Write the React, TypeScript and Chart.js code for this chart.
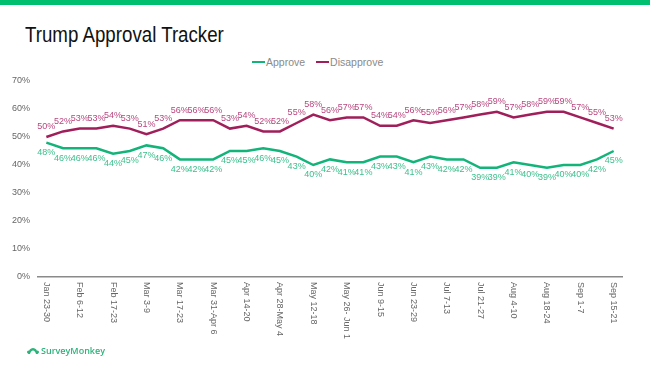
import React, { useEffect, useRef } from "react";
import { Chart, registerables } from "chart.js";

Chart.register(...registerables);

const tickLabels = [
  "Jan 23-30", "Feb 6-12", "Feb 17-23", "Mar 3-9", "Mar 17-23", "Mar 31-Apr 6",
  "Apr 14-20", "Apr 28-May 4", "May 12-18", "May 26- Jun 1", "Jun 9-15", "Jun 23-29",
  "Jul 7-13", "Jul 21-27", "Aug 4-10", "Aug 18-24", "Sep 1-7", "Sep 15-21",
];

const approve = [
  48, 46, 46, 46, 44, 45, 47, 46, 42, 42, 42, 45, 45, 46, 45, 43, 40, 42,
  41, 41, 43, 43, 41, 43, 42, 42, 39, 39, 41, 40, 39, 40, 40, 42, 45,
];

const disapprove = [
  50, 52, 53, 53, 54, 53, 51, 53, 56, 56, 56, 53, 54, 52, 52, 55, 58, 56,
  57, 57, 54, 54, 56, 55, 56, 57, 58, 59, 57, 58, 59, 59, 57, 55, 53,
];

const yTicks = [0, 10, 20, 30, 40, 50, 60, 70];

// every other week is labelled on the axis
const categories: string[] = [];
tickLabels.forEach((l, i) => {
  categories.push(l);
  if (i < tickLabels.length - 1) categories.push("");
});

const GREEN = "#13b47a";
const GREEN_LABEL = "#3cbf8c";
const RED = "#a01e5a";
const RED_LABEL = "#b8477f";

const labelsPlugin = {
  id: "customLabels",
  afterDatasetsDraw(chart: any) {
    const ctx = chart.ctx;
    const xs = chart.scales.x;
    ctx.save();
    ctx.font = "9px 'Liberation Sans', Arial, sans-serif";
    ctx.textAlign = "center";
    ctx.textBaseline = "middle";
    chart.data.datasets.forEach((ds: any, di: number) => {
      const meta = chart.getDatasetMeta(di);
      ctx.fillStyle = di === 0 ? GREEN_LABEL : RED_LABEL;
      meta.data.forEach((pt: any, i: number) => {
        const off = di === 0 ? 10 : -10;
        ctx.fillText(ds.data[i] + "%", pt.x, pt.y + off);
      });
    });
    ctx.fillStyle = "#666";
    ctx.font = "9px 'Liberation Sans', Arial, sans-serif";
    ctx.textAlign = "left";
    ctx.textBaseline = "middle";
    categories.forEach((c, i) => {
      if (!c) return;
      const x = xs.getPixelForValue(i);
      ctx.save();
      ctx.translate(x, xs.top + 5);
      ctx.rotate(Math.PI / 2);
      ctx.fillText(c, 0, 0);
      ctx.restore();
    });
    ctx.restore();
  },
};

function LineChart() {
  const ref = useRef<HTMLCanvasElement>(null);
  useEffect(() => {
    if (!ref.current) return;
    const chart = new Chart(ref.current, {
      type: "line",
      data: {
        labels: categories,
        datasets: [
          {
            label: "Approve",
            data: approve,
            borderColor: GREEN,
            backgroundColor: GREEN,
            borderWidth: 2.5,
            pointRadius: 0,
            tension: 0,
          },
          {
            label: "Disapprove",
            data: disapprove,
            borderColor: RED,
            backgroundColor: RED,
            borderWidth: 2.5,
            pointRadius: 0,
            tension: 0,
          },
        ],
      },
      options: {
        responsive: false,
        animation: false,
        layout: { padding: { top: 81, right: 28, left: 0, bottom: 0 } },
        plugins: { legend: { display: false }, tooltip: { enabled: false } },
        scales: {
          x: {
            offset: true,
            grid: { display: false, drawTicks: false },
            border: { display: true, color: "#8a8a8a", width: 1.5 },
            ticks: { display: false },
            afterFit: (s: any) => {
              s.height = 89;
            },
          },
          y: {
            min: 0,
            max: 70,
            afterBuildTicks: (s: any) => {
              s.ticks = yTicks.map((v) => ({ value: v }));
            },
            grid: { display: false, drawTicks: false },
            border: { display: false },
            ticks: {
              padding: 8,
              color: "#666",
              font: { size: 9, family: "'Liberation Sans', Arial, sans-serif" },
              callback: (v: any) => v + "%",
            },
            afterFit: (s: any) => {
              s.width = 38;
            },
          },
        },
      },
      plugins: [labelsPlugin],
    });
    return () => chart.destroy();
  }, []);
  return (
    <canvas
      ref={ref}
      width={650}
      height={366}
      style={{ position: "absolute", left: 0, top: 0, width: 650, height: 366 }}
    />
  );
}

export default function App() {
  const font = "'Liberation Sans', Arial, sans-serif";
  return (
    <div
      style={{
        position: "fixed",
        left: 0,
        top: 0,
        width: 650,
        height: 366,
        background: "#fff",
        fontFamily: font,
        overflow: "hidden",
      }}
    >
      <div style={{ position: "absolute", left: 0, top: 0, width: 650, height: 5, background: "#00bf6f" }} />
      <div
        style={{
          position: "absolute",
          left: 25,
          top: 21,
          fontSize: 22,
          color: "#111",
          lineHeight: "28px",
          whiteSpace: "nowrap",
          transform: "scaleX(0.85)",
          transformOrigin: "left top",
        }}
      >
        Trump Approval Tracker
      </div>
      <div
        style={{
          position: "absolute",
          left: 252,
          top: 55,
          fontSize: 10.5,
          color: "#8a8a8a",
          display: "flex",
          alignItems: "center",
          lineHeight: "14px",
        }}
      >
        <span style={{ display: "inline-block", width: 13, height: 2.5, background: GREEN, marginRight: 1 }} />
        <span>Approve</span>
        <span style={{ display: "inline-block", width: 13, height: 2.5, background: RED, marginLeft: 11, marginRight: 1 }} />
        <span>Disapprove</span>
      </div>
      <LineChart />
      <div
        style={{
          position: "absolute",
          left: 27,
          top: 345,
          display: "flex",
          alignItems: "center",
          color: "#2cb37a",
          fontSize: 9,
          fontFamily: "'Open Sans', sans-serif",
          fontWeight: 600,
          lineHeight: "11px",
        }}
      >
        <svg width="12" height="9" viewBox="0 0 12 9" style={{ marginRight: 2 }}>
          <path d="M1 8 Q2 2 6 2 Q10 2 11 8 L9 8 Q8 4.5 6 4.5 Q4 4.5 3 8 Z" fill="#2cb37a" />
          <circle cx="1.5" cy="6" r="1.5" fill="#2cb37a" />
          <circle cx="10.5" cy="6" r="1.5" fill="#2cb37a" />
        </svg>
        <span>SurveyMonkey</span>
      </div>
    </div>
  );
}
